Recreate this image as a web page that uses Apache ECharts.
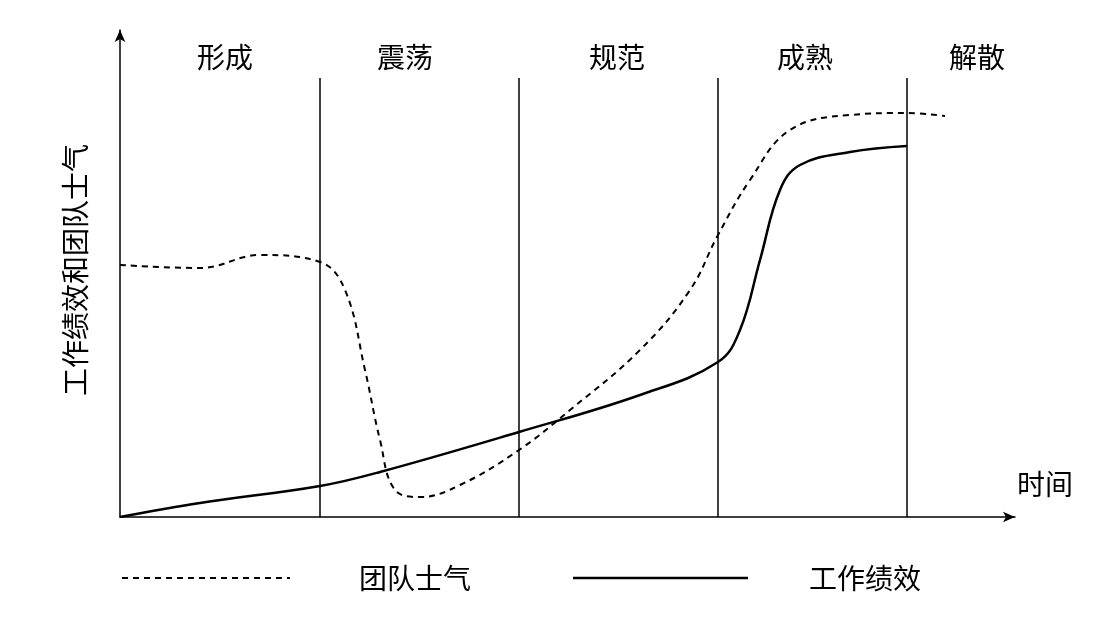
<!DOCTYPE html>
<html><head><meta charset="utf-8">
<script src="https://cdn.jsdelivr.net/npm/echarts@6/dist/echarts.min.js"></script>
<style>html,body{margin:0;background:#fff}#c{width:1116px;height:642px}</style>
</head><body><div id="c"></div>
<script>
const stages = ['形成','震荡','规范','成熟','解散'];
const stageBounds = [200, 399, 598, 787];
const morale = [[0,252],[80,249],[140,262],[200,255],[225,227],[245,147],[260,77],[275,27],[300,20],[340,32],[399,67],[450,107],[520,167],[570,227],[598,282],[630,337],[670,387],[730,402],[787,404],[825,401]];
const performance = [[0,0],[80,14],[200,31],[260,45],[399,85],[520,122],[598,155],[620,187],[640,257],[660,327],[680,352],[730,365],[787,371]];
const F = '"Noto Sans CJK SC"';
const chart = echarts.init(document.getElementById('c'));
const stageX = [225,405,617,805,977];
chart.setOption({
  animation:false,
  grid:{left:120,right:101,top:30,bottom:125},
  xAxis:{type:'value',min:0,max:895,axisLine:{lineStyle:{color:'#000',width:1.5},symbol:['none','arrow'],symbolSize:[8,12]},axisTick:{show:false},axisLabel:{show:false},splitLine:{show:false}},
  yAxis:{type:'value',min:0,max:487,axisLine:{show:true,lineStyle:{color:'#000',width:1.5},symbol:['none','arrow'],symbolSize:[8,12]},axisTick:{show:false},axisLabel:{show:false},splitLine:{show:false}},
  series:[
    {type:'line',data:morale,smooth:0.4,symbol:'none',lineStyle:{color:'#000',width:2,type:[6,5]},
     markLine:{silent:true,symbol:'none',label:{show:false},lineStyle:{color:'#000',width:1.5,type:'solid'},
       data:stageBounds.map(x=>[{coord:[x,0]},{coord:[x,439]}])}},
    {type:'line',data:performance,smooth:0.4,symbol:'none',lineStyle:{color:'#000',width:2.5}}
  ],
  graphic:[
    ...stages.map((s,i)=>({type:'text',x:stageX[i],y:57,style:{text:s,font:'28px '+F,fill:'#000',align:'center',verticalAlign:'middle'}})),
    {type:'text',x:1045,y:484,style:{text:'时间',font:'28px '+F,fill:'#000',align:'center',verticalAlign:'middle'}},
    {type:'text',x:75,y:270,rotation:Math.PI/2,style:{text:'工作绩效和团队士气',font:'28px '+F,fill:'#000',align:'center',verticalAlign:'middle'}},
    {type:'line',shape:{x1:122,y1:578,x2:290,y2:578},style:{stroke:'#000',lineWidth:2,lineDash:[6,5]}},
    {type:'text',x:415,y:578,style:{text:'团队士气',font:'28px '+F,fill:'#000',align:'center',verticalAlign:'middle'}},
    {type:'line',shape:{x1:573,y1:578,x2:748,y2:578},style:{stroke:'#000',lineWidth:2.5}},
    {type:'text',x:865,y:578,style:{text:'工作绩效',font:'28px '+F,fill:'#000',align:'center',verticalAlign:'middle'}}
  ]
});
</script></body></html>
